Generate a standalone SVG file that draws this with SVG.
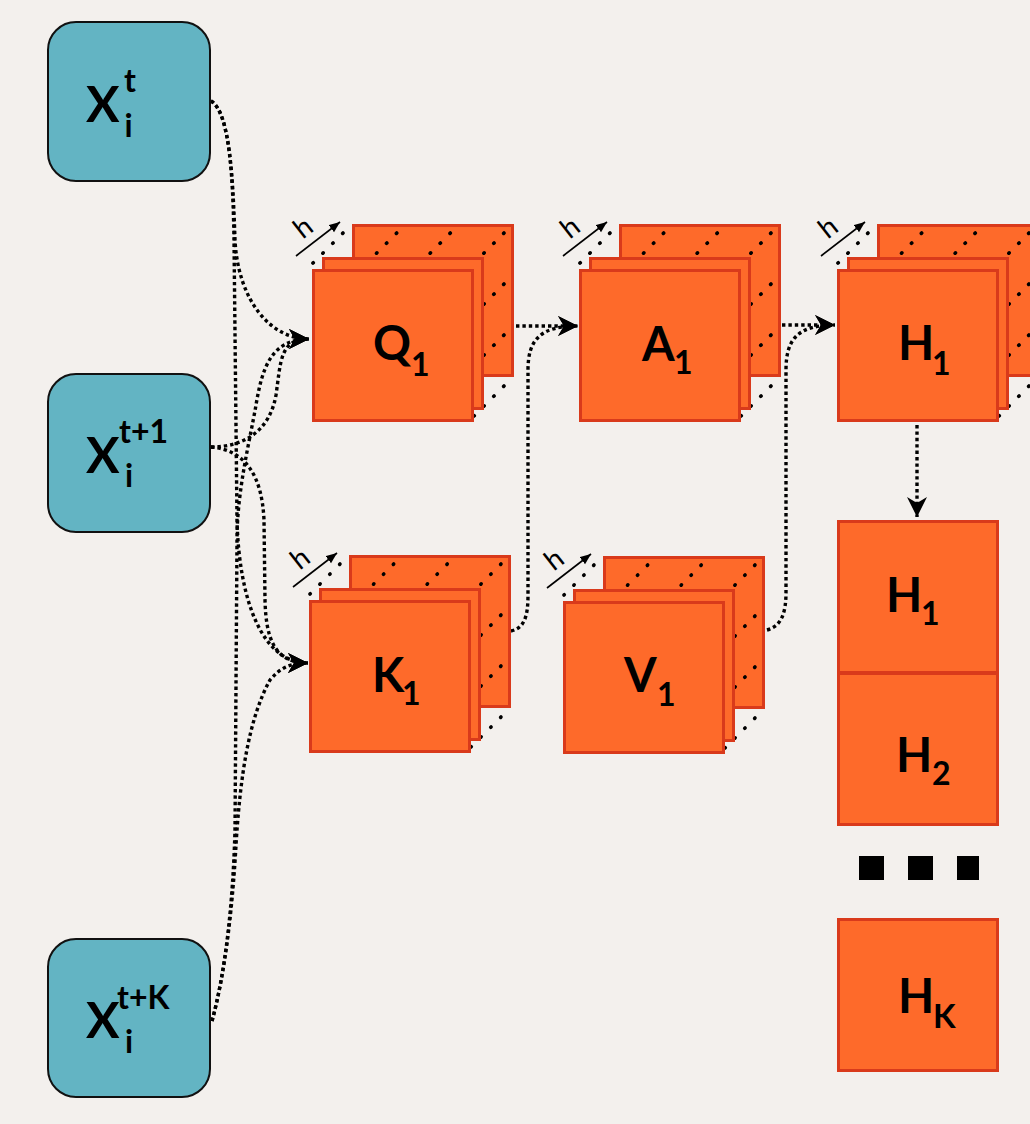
<svg xmlns="http://www.w3.org/2000/svg" width="1030" height="1124" viewBox="0 0 1030 1124">
<defs>
<style>
.bg{fill:#f3f0ed}
.x{fill:#63b4c3;stroke:#111;stroke-width:2}
.o{fill:#fe6a2a;stroke:#d93a1b;stroke-width:3}
.dg{fill:none;stroke:#000;stroke-width:3.6;stroke-linecap:round;stroke-dasharray:0.5 13.5;stroke-dashoffset:1.25}
.c{fill:none;stroke:#000;stroke-width:3.4;stroke-dasharray:3.4 3}
.hl{fill:none;stroke:#000;stroke-width:1.6}
.t{font-family:Lato,"Open Sans",sans-serif;fill:#000;font-weight:700}
.hs{font-family:Lato,"Open Sans",sans-serif;fill:#000;font-size:28px;text-anchor:middle}
.big{font-size:47px}
.sm{font-size:32px}
.xl{font-size:50px}
</style>
<marker id="arr" markerUnits="userSpaceOnUse" viewBox="-21 -11 22 22" refX="0" refY="0" markerWidth="22" markerHeight="22" orient="auto"><path d="M0,0 L-20,-10 L-14,0 L-20,10 Z" fill="#000"/></marker>
<marker id="sarr" markerUnits="userSpaceOnUse" viewBox="-11 -5 12 10" refX="0" refY="0" markerWidth="12" markerHeight="10" orient="auto"><path d="M0,0 L-11,-4.5 L-11,4.5 Z" fill="#000"/></marker>
<g id="stk">
<rect class="o" x="41.5" y="-43.5" width="159" height="150"/>
<path class="dg" d="M40,-45 l-42,42 M93.7,-45 l-42,42 M147.3,-45 l-42,42 M201,-45 l-42,42 M201,6 l-42,42 M201,57 l-42,42 M201,108 l-42,42"/>
<rect class="o" x="11.5" y="-10.5" width="159" height="150"/>
<rect class="o" x="1.5" y="1.5" width="159" height="150"/>
<path class="hl" d="M-16,-13 L28,-47" marker-end="url(#sarr)"/>
<text class="hs" transform="translate(-3,-34) rotate(-38)">h</text>
</g>
</defs>
<rect class="bg" x="0" y="0" width="1030" height="1124"/>

<g id="connectors">
<path class="c" d="M211,101 C230,112 233,180 235,240 C238,300 270,339 309,339" marker-end="url(#arr)"/>
<path class="c" d="M211,101 C230,112 233,180 234,240 L237,520 C239,600 262,663 308,663" marker-end="url(#arr)"/>
<path class="c" d="M211,447 C245,447 270,430 276,395 C281,360 280,339 309,339" marker-end="url(#arr)"/>
<path class="c" d="M211,447 C245,450 262,475 264,520 L265,600 C266,640 275,663 308,663" marker-end="url(#arr)"/>
<path class="c" d="M212,1021 C226,970 233,900 235,830 L237,540 C237,490 250,440 256,405 C262,370 270,339 309,339" marker-end="url(#arr)"/>
<path class="c" d="M212,1021 C226,970 233,900 236,845 C240,780 248,720 270,680 C280,668 290,663 308,663" marker-end="url(#arr)"/>
<path class="c" d="M516,326 L578,326" marker-end="url(#arr)"/>
<path class="c" d="M511,631 C525,628 528,615 528,595 L528,370 C528,340 540,326 578,326" marker-end="url(#arr)"/>
<path class="c" d="M782,325 L835,325" marker-end="url(#arr)"/>
<path class="c" d="M767,630 C782,626 786,612 786,592 L786,370 C786,340 797,325 835,325" marker-end="url(#arr)"/>
<path class="c" d="M917,425 L917,517" marker-end="url(#arr)"/>
</g>

<g id="Xt">
<rect class="x" x="48" y="22" width="162" height="159" rx="28"/>
<text class="t"><tspan class="xl" x="86" y="122">X</tspan><tspan class="sm" x="124" y="92">t</tspan><tspan class="sm" x="124.5" y="137">i</tspan></text>
</g>
<g id="Xt1">
<rect class="x" x="48" y="374" width="162" height="158" rx="28"/>
<text class="t"><tspan class="xl" x="86" y="473">X</tspan><tspan class="sm" x="119" y="443">t+1</tspan><tspan class="sm" x="125" y="487">i</tspan></text>
</g>
<g id="XtK">
<rect class="x" x="48" y="939" width="162" height="158" rx="28"/>
<text class="t"><tspan class="xl" x="86" y="1038">X</tspan><tspan class="sm" x="117" y="1009">t+K</tspan><tspan class="sm" x="125" y="1053">i</tspan></text>
</g>

<g id="Q1">
<use href="#stk" transform="translate(312,269)"/>
<text class="t"><tspan class="big" x="373" y="360">Q</tspan><tspan class="sm" x="411" y="376">1</tspan></text>
</g>
<g id="K1">
<use href="#stk" transform="translate(309,600)"/>
<text class="t"><tspan class="big" x="372" y="692">K</tspan><tspan class="sm" x="402" y="705">1</tspan></text>
</g>
<g id="A1">
<use href="#stk" transform="translate(579,269)"/>
<text class="t"><tspan class="big" x="642" y="361">A</tspan><tspan class="sm" x="674" y="374">1</tspan></text>
</g>
<g id="V1">
<use href="#stk" transform="translate(563,601)"/>
<text class="t"><tspan class="big" x="624" y="692">V</tspan><tspan class="sm" x="657" y="706">1</tspan></text>
</g>
<g id="H1top">
<use href="#stk" transform="translate(837,269)"/>
<text class="t"><tspan class="big" x="898" y="360">H</tspan><tspan class="sm" x="932" y="375">1</tspan></text>
</g>

<g id="H1">
<rect class="o" x="838.5" y="521.5" width="159" height="151"/>
<text class="t"><tspan class="big" x="886" y="612">H</tspan><tspan class="sm" x="921" y="625">1</tspan></text>
</g>
<g id="H2">
<rect class="o" x="838.5" y="673.5" width="159" height="151"/>
<text class="t"><tspan class="big" x="896" y="772">H</tspan><tspan class="sm" x="932" y="785">2</tspan></text>
</g>
<g id="dots">
<rect x="859" y="856" width="25" height="24" fill="#000"/>
<rect x="908" y="856" width="25" height="24" fill="#000"/>
<rect x="957" y="856" width="22" height="24" fill="#000"/>
</g>
<g id="HK">
<rect class="o" x="838.5" y="919.5" width="159" height="151"/>
<text class="t"><tspan class="big" x="898" y="1013">H</tspan><tspan class="sm" x="933" y="1028" style="font-size:33px">K</tspan></text>
</g>
</svg>
